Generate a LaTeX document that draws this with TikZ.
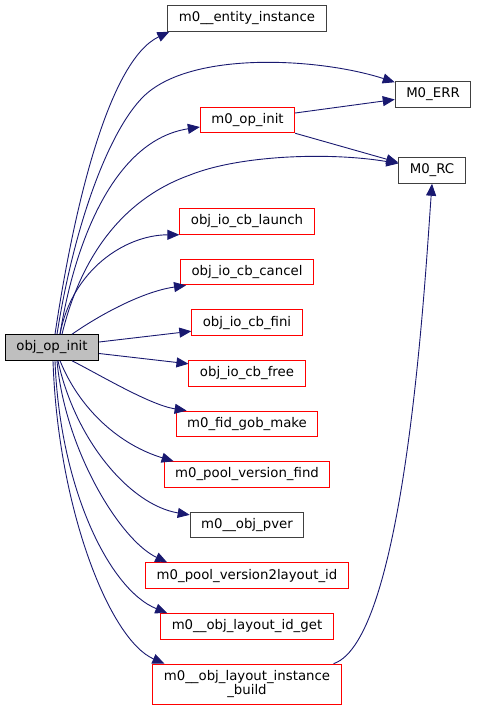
\documentclass[tikz,border=0pt]{standalone}
\usepackage{fontspec}
\setmainfont{DejaVu Sans}
\usetikzlibrary{positioning,arrows.meta}
\definecolor{edgeblue}{RGB}{25,25,112}
\definecolor{boxgray}{RGB}{64,64,64}
\definecolor{mainfill}{RGB}{191,191,191}

\begin{document}
\begin{tikzpicture}[
x=1pt, y=-1pt,
node distance=24.1pt,
fn/.style={draw=boxgray, line width=1pt, fill=white, minimum height=25.5pt, inner xsep=11pt, inner ysep=2pt, font=\fontsize{13.3}{14.5}\selectfont, align=center},
fnred/.style={fn, draw=red},
fnmain/.style={fn, fill=mainfill, draw=black},
call/.style={-{Triangle[length=12pt, width=10pt]}, line width=0.9pt, draw=edgeblue}
]
\useasboundingbox (0,0) rectangle (476,711);
\node[fnmain] (m) at (52,347.5) {obj\_op\_init};
\node[fn] (ent) at (247,18.5) {m0\_\_entity\_instance};
\node[fn] (err) at (433,94.5) {M0\_ERR};
\node[fnred] (opi) at (247.5,120) {m0\_op\_init};
\node[fn] (rc) at (432,170.5) {M0\_RC};
\node[fnred] (lau) at (247,221.5) {obj\_io\_cb\_launch};
\node[fnred, below=of lau] (can) {obj\_io\_cb\_cancel};
\node[fnred, below=of can] (fin) {obj\_io\_cb\_fini};
\node[fnred, below=of fin] (fre) {obj\_io\_cb\_free};
\node[fnred, below=of fre] (fid) {m0\_fid\_gob\_make};
\node[fnred, below=of fid] (pvf) {m0\_pool\_version\_find};
\node[fn, below=of pvf] (pvr) {m0\_\_obj\_pver};
\node[fnred, below=of pvr] (v2l) {m0\_pool\_version2layout\_id};
\node[fnred, below=of v2l] (lig) {m0\_\_obj\_layout\_id\_get};
\node[fnred, below=of lig, minimum height=40pt] (lib) {m0\_\_obj\_layout\_instance\\\_build};
\draw[call] ([xshift=3pt]m.north) .. controls (75,200) and (110,60) .. ([xshift=2pt]ent.south west);
\draw[call] ([xshift=5pt]m.north) .. controls (75,220) and (110,130) .. (143,97) .. controls (190,50) and (320,58) .. ([yshift=-1pt]err.north west);
\draw[call] ([xshift=8pt]m.north) .. controls (75,240) and (115,140) .. ([yshift=-7pt]opi.west);
\draw[call] ([xshift=10pt]m.north) .. controls (80,260) and (120,200) .. (190,175) .. controls (240,155) and (330,152) .. ([yshift=7pt]rc.west);
\draw[call] ([yshift=7pt]opi.east) -- ([yshift=-5pt]err.west);
\draw[call] (opi.south east) -- ([yshift=8pt]rc.west);
\draw[call] ([xshift=8pt]m.north) .. controls (72,270) and (125,235) .. (lau.south west);
\draw[call] ([xshift=20pt]m.north) .. controls (95,318) and (140,292) .. ([xshift=6pt]can.south west);
\draw[call] ([yshift=5.5pt]m.east) -- ([yshift=-8.5pt]fin.west);
\draw[call] ([yshift=-6pt]m.east) -- ([yshift=9.5pt]fre.west);
\draw[call] ([xshift=20pt]m.south) .. controls (100,375) and (150,405) .. ([xshift=11pt]fid.north west);
\draw[call] ([xshift=8pt]m.south) .. controls (80,410) and (120,445) .. ([xshift=10pt]pvf.north west);
\draw[call] ([xshift=6pt]m.south) .. controls (75,440) and (130,505) .. ([yshift=-3pt]pvr.north west);
\draw[call] ([xshift=5pt]m.south) .. controls (65,450) and (120,540) .. ([xshift=22pt]v2l.north west);
\draw[call] ([xshift=3pt]m.south) .. controls (60,490) and (110,590) .. ([xshift=7pt]lig.north west);
\draw[call] ([xshift=1pt]m.south) .. controls (58,510) and (110,640) .. ([xshift=12pt]lib.north west);
\draw[call] ([xshift=-8pt]lib.north east) .. controls (405,640) and (425,280) .. (rc.south);
\end{tikzpicture}
\end{document}
